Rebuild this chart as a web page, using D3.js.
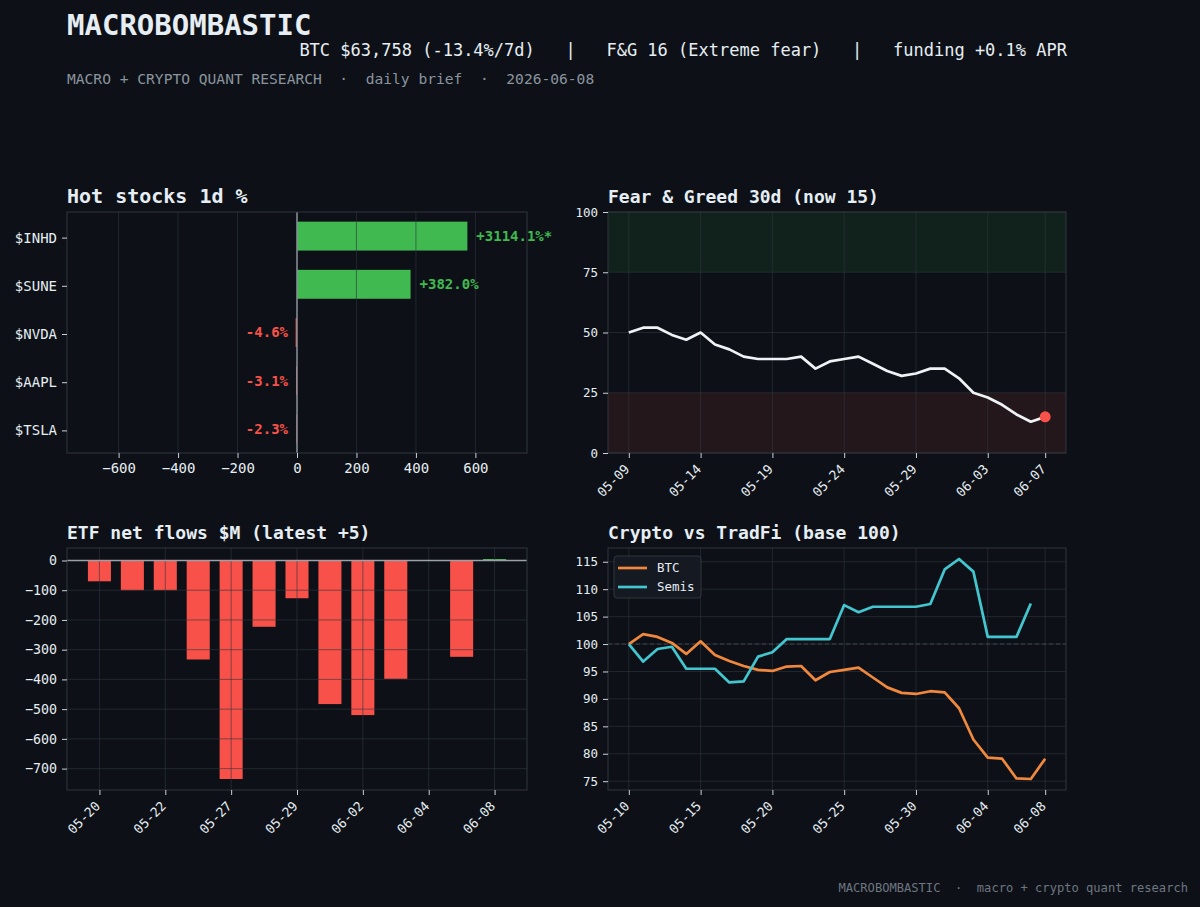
<!DOCTYPE html>
<html>
<head>
<meta charset="utf-8">
<script src="https://cdn.jsdelivr.net/npm/d3@7"></script>
<style>
  body { margin: 0; background: #0d1117; }
  svg text { font-family: "DejaVu Sans Mono", monospace; }
</style>
</head>
<body>
<svg id="chart"></svg>
<script>
// ---- data ----
const stockTickers = ["$INHD", "$SUNE", "$NVDA", "$AAPL", "$TSLA"];
const stockChange1d = [3114.1, 382.0, -4.6, -3.1, -2.3];
const stockTicks = [-600, -400, -200, 0, 200, 400, 600];

const fgStart = "2026-05-09";
const fgValues = [50, 52, 52, 49, 47, 50, 45, 43, 40, 39, 39, 39, 40, 35, 38,
                  39, 40, 37, 34, 32, 33, 35, 35, 31, 25, 23, 20, 16, 13, 15];
const fgTickLabels = ["05-09", "05-14", "05-19", "05-24", "05-29", "06-03", "06-07"];
const fgYTicks = [0, 25, 50, 75, 100];

const etfDates = ["05-20", "05-21", "05-22", "05-26", "05-27", "05-28", "05-29",
                  "06-01", "06-02", "06-03", "06-04", "06-05", "06-08"];
const etfFlows = [-70, -100, -100, -333, -735, -223, -127, -483, -520, -398, 0, -324, 5];
const etfYTicks = [0, -100, -200, -300, -400, -500, -600, -700];

const perfStart = "2026-05-10";
const btcPerf = [100.0, 101.8, 101.3, 100.2, 98.2, 100.5, 98.0, 96.9, 96.0, 95.3,
                 95.1, 95.9, 96.0, 93.4, 94.9, 95.3, 95.7, 93.9, 92.1, 91.1,
                 90.9, 91.4, 91.2, 88.3, 82.6, 79.3, 79.1, 75.5, 75.4, 79.1];
const semisPerf = [100.0, 96.8, 99.1, 99.5, 95.5, 95.5, 95.5, 93.0, 93.2, 97.7,
                   98.5, 100.9, 100.9, 100.9, 100.9, 107.1, 105.8, 106.8, 106.8, 106.8,
                   106.8, 107.3, 113.6, 115.5, 113.2, 101.3, 101.3, 101.3, 107.4];
const perfTickLabels = ["05-10", "05-15", "05-20", "05-25", "05-30", "06-04", "06-08"];
const perfYTicks = [75, 80, 85, 90, 95, 100, 105, 110, 115];

// ---- style ----
const BG = "#0d1117";
const TEXT = "#e6edf3";
const MUTED = "#8b949e";
const FRAME = "#30363d";
const GREEN = "#3fb950";
const RED = "#f85149";
const ORANGE = "#f0883e";
const CYAN = "#43c6cf";

const W = 1200, H = 907;
const svg = d3.select("#chart").attr("width", W).attr("height", H);
svg.append("rect").attr("width", W).attr("height", H).attr("fill", BG);

// header
svg.append("text").attr("x", 67).attr("y", 35)
  .attr("font-size", 29).attr("font-weight", "bold").attr("fill", TEXT)
  .text("MACROBOMBASTIC");
svg.append("text").attr("x", 1067).attr("y", 56).attr("text-anchor", "end")
  .attr("font-size", 17).attr("fill", TEXT)
  .style("white-space", "pre")
  .text("BTC $63,758 (-13.4%/7d)   |   F&G 16 (Extreme fear)   |   funding +0.1% APR");
svg.append("text").attr("x", 67).attr("y", 84)
  .attr("font-size", 14.6).attr("fill", MUTED).style("white-space", "pre")
  .text("MACRO + CRYPTO QUANT RESEARCH  ·  daily brief  ·  2026-06-08");
svg.append("text").attr("x", 1188).attr("y", 892).attr("text-anchor", "end")
  .attr("font-size", 12.1).attr("fill", "#6e7681").style("white-space", "pre")
  .text("MACROBOMBASTIC  ·  macro + crypto quant research");

const panels = {
  stocks: { x0: 67, x1: 527, y0: 212, y1: 453 },
  fg:     { x0: 608, x1: 1066, y0: 212, y1: 453 },
  etf:    { x0: 67, x1: 527, y0: 548, y1: 790 },
  perf:   { x0: 608, x1: 1066, y0: 548, y1: 790 }
};

function panelTitle(p, text, size) {
  svg.append("text").attr("x", p.x0).attr("y", p.y0 - 9)
    .attr("font-size", size).attr("font-weight", "bold").attr("fill", TEXT)
    .text(text);
}

function frame(p) {
  svg.append("rect").attr("x", p.x0).attr("y", p.y0)
    .attr("width", p.x1 - p.x0).attr("height", p.y1 - p.y0)
    .attr("fill", "none").attr("stroke", FRAME).attr("stroke-width", 1);
}

function styleAxis(g, size) {
  g.select(".domain").remove();
  g.selectAll(".tick line").attr("stroke", "#c9d1d9").attr("stroke-width", 1);
  g.selectAll(".tick text").attr("fill", TEXT).attr("font-size", size)
    .attr("font-family", "DejaVu Sans Mono");
}

function rotateLabels(g) {
  g.selectAll(".tick text")
    .attr("x", 0).attr("y", 0).attr("dy", 0)
    .attr("text-anchor", "end")
    .attr("transform", "translate(1,17) rotate(-45)");
}

function gridX(p, xs) {
  svg.append("g").selectAll("line").data(xs).join("line")
    .attr("x1", d => d).attr("x2", d => d)
    .attr("y1", p.y0).attr("y2", p.y1)
    .attr("stroke", FRAME).attr("stroke-opacity", 0.6).attr("stroke-width", 1);
}
function gridY(p, ys) {
  svg.append("g").selectAll("line").data(ys).join("line")
    .attr("x1", p.x0).attr("x2", p.x1)
    .attr("y1", d => d).attr("y2", d => d)
    .attr("stroke", FRAME).attr("stroke-opacity", 0.6).attr("stroke-width", 1);
}

// ---- Hot stocks ----
(function drawStocks() {
  const p = panels.stocks;
  const sorted = stockChange1d.map(Math.abs).sort((a, b) => b - a);
  const clipAt = 1.5 * sorted[1];
  const shown = stockChange1d.map(v => Math.max(-clipAt, Math.min(clipAt, v)));
  const lim = d3.max(shown, Math.abs) * 1.35;

  const x = d3.scaleLinear().domain([-lim, lim]).range([p.x0, p.x1]);
  const y = d3.scaleBand().domain(stockTickers).range([p.y0, p.y1])
    .paddingInner(0.4).paddingOuter(0.2);

  svg.append("g").selectAll("rect").data(stockTickers).join("rect")
    .attr("x", (d, i) => x(Math.min(0, shown[i])))
    .attr("width", (d, i) => Math.abs(x(shown[i]) - x(0)))
    .attr("y", d => y(d)).attr("height", y.bandwidth())
    .attr("fill", (d, i) => stockChange1d[i] >= 0 ? GREEN : RED);

  gridX(p, stockTicks.map(x));

  svg.append("line").attr("x1", x(0)).attr("x2", x(0))
    .attr("y1", p.y0).attr("y2", p.y1)
    .attr("stroke", "#9aa1a9").attr("stroke-width", 1.3);

  svg.append("g").selectAll("text").data(stockTickers).join("text")
    .attr("x", (d, i) => shown[i] >= 0 ? x(shown[i]) + 9 : x(0) - 9)
    .attr("y", d => y(d) + y.bandwidth() / 2)
    .attr("dy", "0.35em")
    .attr("text-anchor", (d, i) => shown[i] >= 0 ? "start" : "end")
    .attr("font-size", 14).attr("font-weight", "bold")
    .attr("fill", (d, i) => stockChange1d[i] >= 0 ? GREEN : RED)
    .text((d, i) => {
      const v = stockChange1d[i];
      return (v >= 0 ? "+" : "") + v.toFixed(1) + "%" + (Math.abs(v) > clipAt ? "*" : "");
    });

  frame(p);
  const ax = svg.append("g").attr("transform", `translate(0,${p.y1})`)
    .call(d3.axisBottom(x).tickValues(stockTicks).tickSize(5).tickPadding(5).tickFormat(d3.format("d")));
  styleAxis(ax, 14);
  const ay = svg.append("g").attr("transform", `translate(${p.x0},0)`)
    .call(d3.axisLeft(y).tickSize(5).tickPadding(5));
  styleAxis(ay, 14);
  ay.selectAll(".tick").attr("transform", function () {
    const t = d3.select(this).attr("transform");
    return t.replace(/,([\d.]+)\)/, (m, v) => "," + (+v + 2) + ")");
  });
  panelTitle(p, "Hot stocks 1d %", 20);
})();

// ---- Fear & Greed ----
(function drawFG() {
  const p = panels.fg;
  const parse = d3.timeParse("%Y-%m-%d");
  const start = parse(fgStart);
  const dates = fgValues.map((v, i) => d3.timeDay.offset(start, i));
  const span = dates[dates.length - 1] - dates[0];
  const x = d3.scaleTime()
    .domain([new Date(+dates[0] - span * 0.05), new Date(+dates[dates.length - 1] + span * 0.05)])
    .range([p.x0, p.x1]);
  const y = d3.scaleLinear().domain([0, 100]).range([p.y1, p.y0]);
  const fmt = d3.timeFormat("%m-%d");
  const tickDates = dates.filter(d => fgTickLabels.includes(fmt(d)));

  svg.append("rect").attr("x", p.x0).attr("width", p.x1 - p.x0)
    .attr("y", y(100)).attr("height", y(75) - y(100))
    .attr("fill", GREEN).attr("fill-opacity", 0.1);
  svg.append("rect").attr("x", p.x0).attr("width", p.x1 - p.x0)
    .attr("y", y(25)).attr("height", y(0) - y(25))
    .attr("fill", RED).attr("fill-opacity", 0.1);

  gridX(p, tickDates.map(x));
  gridY(p, fgYTicks.map(y));

  const line = d3.line().x((d, i) => x(dates[i])).y(d => y(d));
  svg.append("path").datum(fgValues).attr("d", line)
    .attr("fill", "none").attr("stroke", "#f0f3f6").attr("stroke-width", 2.7)
    .attr("stroke-linejoin", "round");
  const last = fgValues.length - 1;
  svg.append("circle").attr("cx", x(dates[last])).attr("cy", y(fgValues[last]))
    .attr("r", 5.5).attr("fill", RED);

  frame(p);
  const ax = svg.append("g").attr("transform", `translate(0,${p.y1})`)
    .call(d3.axisBottom(x).tickValues(tickDates).tickFormat(fmt).tickSize(5));
  styleAxis(ax, 13);
  rotateLabels(ax);
  const ay = svg.append("g").attr("transform", `translate(${p.x0},0)`)
    .call(d3.axisLeft(y).tickValues(fgYTicks).tickSize(5).tickPadding(5));
  styleAxis(ay, 12.5);
  panelTitle(p, `Fear & Greed 30d (now ${fgValues[last]})`, 18);
})();

// ---- ETF flows ----
(function drawETF() {
  const p = panels.etf;
  const n = etfDates.length;
  const w = 0.7;
  const lo = -w / 2, hi = n - 1 + w / 2, m = (hi - lo) * 0.05;
  const x = d3.scaleLinear().domain([lo - m, hi + m]).range([p.x0, p.x1]);
  const ymin = d3.min(etfFlows), ymax = d3.max(etfFlows);
  const ym = (ymax - ymin) * 0.05;
  const y = d3.scaleLinear().domain([ymin - ym, ymax + ym]).range([p.y1, p.y0]);
  const tickIdx = etfDates.map((d, i) => i).filter(i => i % 2 === 0);

  svg.append("g").selectAll("rect").data(etfFlows).join("rect")
    .attr("x", (d, i) => x(i - w / 2))
    .attr("width", (d, i) => x(i + w / 2) - x(i - w / 2))
    .attr("y", d => y(Math.max(0, d)))
    .attr("height", d => Math.abs(y(d) - y(0)))
    .attr("fill", d => d >= 0 ? GREEN : RED);

  gridX(p, tickIdx.map(x));
  gridY(p, etfYTicks.map(y));

  svg.append("line").attr("x1", p.x0).attr("x2", p.x1)
    .attr("y1", y(0)).attr("y2", y(0))
    .attr("stroke", "#9aa1a9").attr("stroke-width", 1.6);

  frame(p);
  const ax = svg.append("g").attr("transform", `translate(0,${p.y1})`)
    .call(d3.axisBottom(x).tickValues(tickIdx).tickFormat(i => etfDates[i]).tickSize(5));
  styleAxis(ax, 13);
  rotateLabels(ax);
  const ay = svg.append("g").attr("transform", `translate(${p.x0},0)`)
    .call(d3.axisLeft(y).tickValues(etfYTicks).tickSize(5).tickPadding(5).tickFormat(d3.format("d")));
  styleAxis(ay, 13.3);
  panelTitle(p, `ETF net flows $M (latest ${d3.format("+d")(etfFlows[n - 1])})`, 18);
})();

// ---- Crypto vs TradFi ----
(function drawPerf() {
  const p = panels.perf;
  const parse = d3.timeParse("%Y-%m-%d");
  const start = parse(perfStart);
  const dates = btcPerf.map((v, i) => d3.timeDay.offset(start, i));
  const span = dates[dates.length - 1] - dates[0];
  const x = d3.scaleTime()
    .domain([new Date(+dates[0] - span * 0.05), new Date(+dates[dates.length - 1] + span * 0.05)])
    .range([p.x0, p.x1]);
  const all = btcPerf.concat(semisPerf);
  const lo = d3.min(all), hi = d3.max(all), m = (hi - lo) * 0.05;
  const y = d3.scaleLinear().domain([lo - m, hi + m]).range([p.y1, p.y0]);
  const fmt = d3.timeFormat("%m-%d");
  const tickDates = dates.filter(d => perfTickLabels.includes(fmt(d)));

  gridX(p, tickDates.map(x));
  gridY(p, perfYTicks.map(y));

  svg.append("line").attr("x1", p.x0).attr("x2", p.x1)
    .attr("y1", y(100)).attr("y2", y(100))
    .attr("stroke", MUTED).attr("stroke-opacity", 0.35)
    .attr("stroke-dasharray", "4,3").attr("stroke-width", 1);

  const line = d3.line().x((d, i) => x(dates[i])).y(d => y(d));
  svg.append("path").datum(btcPerf).attr("d", line)
    .attr("fill", "none").attr("stroke", ORANGE).attr("stroke-width", 2.7)
    .attr("stroke-linejoin", "round");
  svg.append("path").datum(semisPerf).attr("d", line)
    .attr("fill", "none").attr("stroke", CYAN).attr("stroke-width", 2.7)
    .attr("stroke-linejoin", "round");

  frame(p);
  const ax = svg.append("g").attr("transform", `translate(0,${p.y1})`)
    .call(d3.axisBottom(x).tickValues(tickDates).tickFormat(fmt).tickSize(5));
  styleAxis(ax, 13);
  rotateLabels(ax);
  const ay = svg.append("g").attr("transform", `translate(${p.x0},0)`)
    .call(d3.axisLeft(y).tickValues(perfYTicks).tickSize(5).tickPadding(5));
  styleAxis(ay, 12.5);

  // legend
  const lg = svg.append("g").attr("transform", `translate(${p.x0 + 6},${p.y0 + 8})`);
  lg.append("rect").attr("width", 87).attr("height", 42).attr("rx", 3)
    .attr("fill", "#161b22").attr("fill-opacity", 0.9).attr("stroke", FRAME);
  const items = [["BTC", ORANGE], ["Semis", CYAN]];
  items.forEach(([name, c], i) => {
    lg.append("line").attr("x1", 4).attr("x2", 33)
      .attr("y1", 12 + i * 19).attr("y2", 12 + i * 19)
      .attr("stroke", c).attr("stroke-width", 2.7);
    lg.append("text").attr("x", 43).attr("y", 12 + i * 19).attr("dy", "0.35em")
      .attr("font-size", 12.5).attr("fill", TEXT).text(name);
  });
  panelTitle(p, "Crypto vs TradFi (base 100)", 18);
})();
</script>
</body>
</html>
